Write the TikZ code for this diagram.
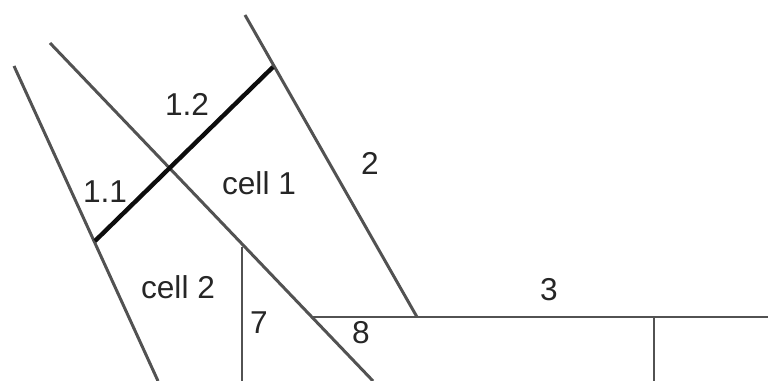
\documentclass[tikz,border=0pt]{standalone}
\usepackage{fontspec}
\setmainfont{Liberation Sans}
\usepackage{xcolor}
\usetikzlibrary{calc}
\colorlet{planLine}{black!68}
\colorlet{planCut}{black!95}
\tikzset{
  planwall/.style={line width=1.7pt, draw=planLine},
  plancut/.style={line width=2.5pt, draw=planCut},
  planlabel/.style={font=\fontsize{18}{22}\selectfont, text=black!85, inner sep=0pt}
}

\begin{document}
\begin{tikzpicture}[x=0.02cm,y=-0.02cm]
  \useasboundingbox (0,0) rectangle (768,381);

  % wall ends
  \coordinate (aTop) at (14,66);
  \coordinate (aBot) at (158,381);
  \coordinate (bTop) at (50,43);
  \coordinate (bBot) at (373,381);
  \coordinate (cTop) at (245,15);
  \coordinate (cBot) at (417,317);
  \coordinate (cutA) at (95,241);
  \coordinate (cutC) at (273,67);
  \coordinate (hLeft) at (312,317);
  \coordinate (hRight) at (768,317);
  \coordinate (v7Top) at (242,247);
  \coordinate (v7Bot) at (242,381);
  \coordinate (vRTop) at (654,317);
  \coordinate (vRBot) at (654,381);

  \draw[planwall] (aTop) -- (aBot);
  \draw[planwall] (bTop) -- (bBot);
  \draw[planwall] (cTop) -- (cBot);
  \draw[planwall] (hLeft) -- (hRight);
  \draw[planwall] (v7Top) -- (v7Bot);
  \draw[planwall] (vRTop) -- (vRBot);
  \draw[plancut] (cutA) -- (cutC);

  \node[planlabel] (l12) at (187,104) {1.2};
  \node[planlabel] (l11) at (105,192) {1.1};
  \node[planlabel] (cell1) at (259,183) {cell 1};
  \node[planlabel] (l2) at (370,163) {2};
  \node[planlabel] (cell2) at (178,287) {cell 2};
  \node[planlabel] (l3) at (549,290) {3};
  \node[planlabel] (l7) at (259,323) {7};
  \node[planlabel] (l8) at (361,333) {8};
\end{tikzpicture}
\end{document}
